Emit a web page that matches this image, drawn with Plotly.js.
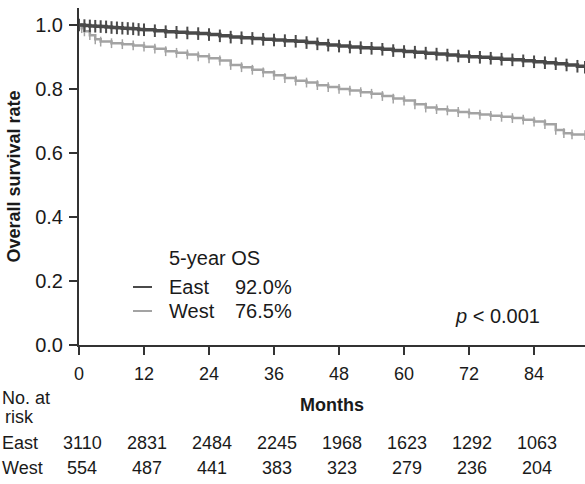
<!DOCTYPE html>
<html>
<head>
<meta charset="utf-8">
<script src="https://cdn.plot.ly/plotly-3.0.1.min.js"></script>
<style>html,body{margin:0;padding:0;background:#fff;}#chart{width:585px;height:484px;}</style>
</head>
<body>
<div id="chart"></div>
<script>
// Kaplan-Meier estimates
const eastMonths = [0,1,2,3,4,5,6,7,8,9,10,11,12,14,16,18,20,22,24,26,28,30,32,34,36,38,40,42,44,46,48,50,52,54,56,58,60,62,64,66,68,70,72,74,76,78,80,82,84,86,88,90,92,93.4];
const eastSurv = [1.000,0.998,0.997,0.996,0.995,0.994,0.992,0.991,0.990,0.989,0.988,0.986,0.985,0.982,0.979,0.977,0.975,0.973,0.970,0.966,0.962,0.960,0.958,0.955,0.953,0.951,0.949,0.945,0.941,0.937,0.934,0.931,0.929,0.927,0.924,0.920,0.917,0.915,0.912,0.909,0.906,0.903,0.901,0.899,0.896,0.893,0.891,0.888,0.885,0.882,0.879,0.875,0.871,0.868];
const westMonths = [0,0.5,1,2,3,4,6,8,10,12,14,16,18,20,22,24,26,28,30,32,34,36,38,40,42,44,46,48,50,52,54,56,58,60,62,64,66,68,70,72,74,76,78,80,82,84,86,88,89.5,91,93.4];
const westSurv = [1.000,0.990,0.980,0.968,0.955,0.948,0.943,0.940,0.936,0.932,0.926,0.918,0.913,0.908,0.902,0.896,0.889,0.875,0.868,0.860,0.852,0.843,0.834,0.826,0.820,0.812,0.806,0.800,0.795,0.790,0.785,0.778,0.770,0.764,0.752,0.742,0.737,0.733,0.728,0.724,0.720,0.716,0.713,0.709,0.704,0.698,0.690,0.672,0.662,0.658,0.656];

const tickMonths = [0,12,24,36,48,60,72,84];
const riskEast = [3110,2831,2484,2245,1968,1623,1292,1063];
const riskWest = [554,487,441,383,323,279,236,204];
const groupNames = ["East","West"];
const osRates = ["92.0%","76.5%"];

const darkCol = '#4a4a4a', lightCol = '#a3a3a3', txt = '#1a1a1a';
const FONT = '"Liberation Sans", Arial, Helvetica, sans-serif';

// pixel -> paper helpers (plot area: x 79..585, y 8..345)
const L = 79, R = 585, T = 8, B = 345;
const px = x => (x - L) / (R - L);
const py = y => (B - y) / (B - T);

const traces = [
  {x: westMonths, y: westSurv, mode: 'lines+markers', line: {shape: 'hv', color: lightCol, width: 2.5},
   marker: {symbol: 'line-ns-open', size: 7, line: {color: lightCol, width: 1.5}}, showlegend: false, hoverinfo: 'skip'},
  {x: eastMonths, y: eastSurv, mode: 'lines+markers', line: {shape: 'hv', color: darkCol, width: 3.5},
   marker: {symbol: 'line-ns-open', size: 9, line: {color: darkCol, width: 2}}, showlegend: false, hoverinfo: 'skip'}
];

const ann = [];
function A(text, x, y, opts) {
  ann.push(Object.assign({text: text, x: px(x), y: py(y), xref: 'paper', yref: 'paper', showarrow: false,
    xanchor: 'left', yanchor: 'middle', font: {family: FONT, size: 20, color: txt}}, opts || {}));
}
A('5-year OS', 167, 258);
A(groupNames[0], 167, 287); A(osRates[0], 233, 287);
A(groupNames[1], 167, 311); A(osRates[1], 233, 311);
A('<i>p</i> < 0.001', 453, 316);
A('No. at', 0, 398, {font: {family: FONT, size: 18, color: txt}});
A('risk', 3, 417, {font: {family: FONT, size: 18, color: txt}});
A(groupNames[0], 0, 443, {font: {family: FONT, size: 18, color: txt}});
A(groupNames[1], 0, 468, {font: {family: FONT, size: 18, color: txt}});
tickMonths.forEach((m, i) => {
  ann.push({text: String(riskEast[i]), x: m, xref: 'x', y: py(443), yref: 'paper', xshift: 3, showarrow: false,
    xanchor: 'center', yanchor: 'middle', font: {family: FONT, size: 18, color: txt}});
  ann.push({text: String(riskWest[i]), x: m, xref: 'x', y: py(468), yref: 'paper', xshift: 3, showarrow: false,
    xanchor: 'center', yanchor: 'middle', font: {family: FONT, size: 18, color: txt}});
});

const shapes = [
  {type: 'line', xref: 'paper', yref: 'paper', x0: px(133), x1: px(152), y0: py(287), y1: py(287), line: {color: darkCol, width: 2}},
  {type: 'line', xref: 'paper', yref: 'paper', x0: px(133), x1: px(152), y0: py(311), y1: py(311), line: {color: lightCol, width: 2}}
];

const layout = {
  width: 585, height: 484,
  margin: {l: L, r: 0, t: T, b: 484 - B, pad: 0},
  paper_bgcolor: '#fff', plot_bgcolor: '#fff',
  font: {family: FONT, color: txt},
  showlegend: false,
  xaxis: {range: [0, 93.4], tickvals: tickMonths, ticktext: tickMonths.map(String),
    ticks: 'outside', ticklen: 8, tickwidth: 2, tickcolor: '#333', showline: true, linecolor: '#333', linewidth: 2,
    showgrid: false, zeroline: false, tickfont: {family: FONT, size: 18, color: txt}, ticklabelstandoff: 3,
    title: {text: '<b>Months</b>', font: {family: FONT, size: 18, color: txt}, standoff: 16}},
  yaxis: {range: [0, 1.053], tickvals: [0, 0.2, 0.4, 0.6, 0.8, 1.0], ticktext: ['0.0','0.2','0.4','0.6','0.8','1.0'],
    ticks: 'outside', ticklen: 8, tickwidth: 2, tickcolor: '#333', showline: true, linecolor: '#333', linewidth: 2,
    showgrid: false, zeroline: false, tickfont: {family: FONT, size: 20, color: txt}, ticklabelstandoff: 2,
    title: {text: '<b>Overall survival rate</b>', font: {family: FONT, size: 18, color: txt}, standoff: 10}},
  annotations: ann,
  shapes: shapes
};

Plotly.newPlot('chart', traces, layout, {displayModeBar: false, staticPlot: true});
</script>
</body>
</html>
